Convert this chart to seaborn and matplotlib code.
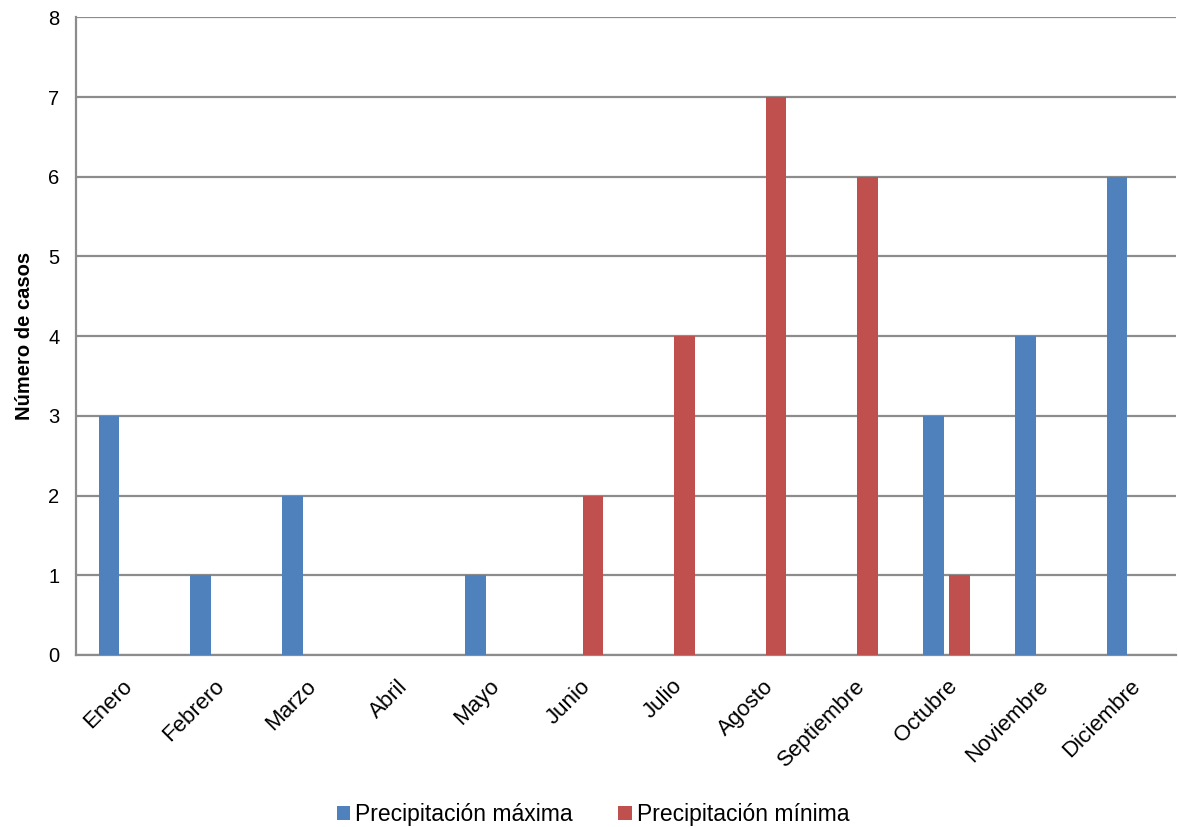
import numpy as np
import pandas as pd
import matplotlib
matplotlib.use('Agg')
import matplotlib.pyplot as plt
import seaborn as sns

# Datos
meses = ['Enero', 'Febrero', 'Marzo', 'Abril', 'Mayo', 'Junio', 'Julio',
         'Agosto', 'Septiembre', 'Octubre', 'Noviembre', 'Diciembre']
p_max = [3, 1, 2, 0, 1, 0, 0, 0, 0, 3, 4, 6]
p_min = [0, 0, 0, 0, 0, 2, 4, 7, 6, 1, 0, 0]
series = ['Precipitación máxima', 'Precipitación mínima']
colores = ['#4F81BD', '#C0504D']

df = pd.DataFrame({
    'Mes': meses * 2,
    'Casos': p_max + p_min,
    'Serie': [series[0]] * 12 + [series[1]] * 12,
})

sns.set_style('white')
plt.rcParams['font.family'] = ['Liberation Sans', 'DejaVu Sans']
plt.rcParams['text.color'] = 'black'
plt.rcParams['xtick.color'] = 'black'
plt.rcParams['ytick.color'] = 'black'
plt.rcParams['axes.labelcolor'] = 'black'

fig = plt.figure(figsize=(11.78, 8.27), dpi=100)
ax = fig.add_axes([0.0645, 0.208, 0.9335, 0.771])

sns.barplot(data=df, x='Mes', y='Casos', hue='Serie', order=meses,
            hue_order=series, palette=colores, width=0.56, gap=0.2,
            saturation=1, linewidth=0, ax=ax, zorder=3)

ax.set_xlim(-0.5, 11.5)
ax.set_ylim(0, 8)
ax.set_yticks(range(0, 9))
ax.yaxis.grid(True, color='#8c8c8c', linewidth=1.6, zorder=0)
ax.set_axisbelow(True)
for s in ['top', 'right']:
    ax.spines[s].set_visible(False)
for s in ['left', 'bottom']:
    ax.spines[s].set_color('#8c8c8c')
    ax.spines[s].set_linewidth(1.6)

ax.tick_params(axis='y', labelsize=14.5, length=0, pad=12)
ax.tick_params(axis='x', labelsize=16, length=0, pad=15)
plt.setp(ax.get_xticklabels(), rotation=45, ha='right', rotation_mode='anchor')
ax.set_xlabel('')
ax.set_ylabel('Número de casos', fontsize=14.5, fontweight='bold', labelpad=10)

ax.legend(loc='upper center', bbox_to_anchor=(0.47, -0.2), ncol=2,
          frameon=False, fontsize=16.5, handlelength=0.6, handleheight=0.6,
          handletextpad=0.2, columnspacing=2.0)

fig.savefig('out.png', dpi=100)
